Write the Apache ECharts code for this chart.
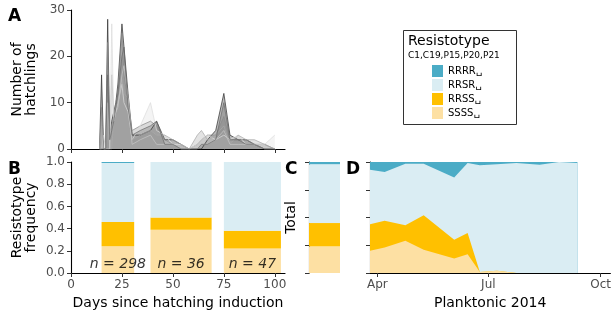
<!DOCTYPE html>
<html>
<head>
<meta charset="utf-8">
<script src="https://cdn.jsdelivr.net/npm/echarts@6/dist/echarts.min.js"></script>
<style>
  html, body { margin: 0; padding: 0; background: #fff; }
  #main { width: 614px; height: 320px; }
</style>
</head>
<body>
<div id="main"></div>
<script>
// A: hatchlings per day, one series per clone
var hatchDays = [14, 15, 16, 17, 18, 19, 20, 21, 22, 23, 25, 26, 28, 30, 34, 39, 42, 46, 50, 54, 58, 62, 64, 67, 71, 75, 78, 82, 86, 90, 95, 100];
var hatch1 = [0, 16, 0, 0, 28, 3, 6, 8, 10, 14, 27, 22, 12, 3, 3, 4, 6, 2, 2, 1, 0, 0, 0, 2, 4, 12, 3, 2, 2, 1, 0, 0];
var hatch2 = [0, 9, 0, 0, 23, 0, 5, 7, 10, 12, 25, 16, 10, 4, 5, 6, 5, 2, 1, 0, 0, 1, 2, 3, 3, 7, 2, 2, 2, 1, 1, 0];
var hatch3 = [0, 0, 0, 0, 0, 0, 27, 6, 8, 10, 14, 10, 8, 2, 5, 10, 4, 3, 1, 1, 0, 1, 2, 3, 2, 3, 2, 3, 1, 1, 1, 3];
var hatch4 = [0, 5, 0, 0, 0, 0, 0, 7, 9, 10, 15, 12, 11, 2, 3, 4, 3, 3, 2, 1, 0, 3, 4, 2, 3, 5, 1, 3, 2, 2, 1, 0];
var hatch5 = [0, 0, 3, 0, 10, 0, 16, 7, 8, 9, 16, 18, 11, 1, 2, 3, 1, 1, 1, 0, 0, 0, 1, 1, 2, 4, 1, 1, 1, 1, 0, 0];
var hatch6 = [0, 0, 0, 0, 16, 2, 4, 6, 9, 12, 20, 22, 9, 3, 4, 5, 6, 1, 1, 0, 0, 0, 1, 1, 2, 10, 2, 2, 1, 1, 0, 0];

// resistotypes
var typeNames = ['RRRR', 'RRSR', 'RRSS', 'SSSS'];
var typeColors = {RRRR: '#4bacc6', RRSR: '#daedf3', RRSS: '#ffc000', SSSS: '#fde0a3'};

// B: hatching bins
var binStart = [15, 39, 75];
var binEnd = [31, 69, 103];
var binCounts = [298, 36, 47];
var binSSSS = [0.24, 0.39, 0.22];
var binRRSS = [0.22, 0.11, 0.16];
var binRRSR = [0.53, 0.50, 0.62];
var binRRRR = [0.01, 0.00, 0.00];

// C: total
var totalSSSS = [0.24];
var totalRRSS = [0.21];
var totalRRSR = [0.53];
var totalRRRR = [0.02];

// D: planktonic 2014
var planktonDates = ['2014-03-26', '2014-04-07', '2014-04-24', '2014-05-09', '2014-06-03', '2014-06-14', '2014-06-24', '2014-07-08', '2014-07-24', '2014-08-12', '2014-08-28', '2014-09-12'];
var planktonSSSS = [0.20, 0.23, 0.29, 0.21, 0.13, 0.17, 0.01, 0.02, 0.00, 0.00, 0.00, 0.01];
var planktonRRSS = [0.24, 0.24, 0.14, 0.31, 0.17, 0.19, 0.00, 0.00, 0.00, 0.00, 0.00, 0.00];
var planktonRRSR = [0.49, 0.44, 0.555, 0.465, 0.56, 0.63, 0.96, 0.96, 0.99, 0.975, 1.00, 0.98];
var planktonRRRR = [0.07, 0.09, 0.015, 0.015, 0.14, 0.01, 0.03, 0.02, 0.01, 0.025, 0.00, 0.01];
var monthTickDates = ['2014-04-01', '2014-07-01', '2014-10-01'];

function toMs(s) {
    var p = s.split('-');
    return new Date(+p[0], +p[1] - 1, +p[2]).getTime();
}
var monthTicks = monthTickDates.map(toMs);
var monthNames = ['Jan', 'Feb', 'Mar', 'Apr', 'May', 'Jun', 'Jul', 'Aug', 'Sep', 'Oct', 'Nov', 'Dec'];

var myChart = echarts.init(document.getElementById('main'));

var hatchSeries = [hatch1, hatch2, hatch3, hatch4, hatch5, hatch6];
var greys = ['#303030', '#8a8a8a', '#dcdcdc', '#a8a8a8', '#c6c6c6', '#6a6a6a'];

var series = [];
hatchSeries.forEach(function (vals, i) {
    series.push({
        name: 'clone' + (i + 1),
        type: 'line',
        xAxisIndex: 0,
        yAxisIndex: 0,
        symbol: 'none',
        data: hatchDays.map(function (d, j) { return [d, vals[j]]; }),
        lineStyle: {color: greys[i], width: 0.8, opacity: 0.9},
        areaStyle: {color: greys[i], opacity: 0.32},
        silent: true
    });
});

var binTypes = {SSSS: binSSSS, RRSS: binRRSS, RRSR: binRRSR, RRRR: binRRRR};
var totalTypes = {SSSS: totalSSSS, RRSS: totalRRSS, RRSR: totalRRSR, RRRR: totalRRRR};
var planktonTypes = {SSSS: planktonSSSS, RRSS: planktonRRSS, RRSR: planktonRRSR, RRRR: planktonRRRR};
var stackOrder = ['SSSS', 'RRSS', 'RRSR', 'RRRR'];

// B: variable width stacked bars
var cum = binStart.map(function () { return 0; });
stackOrder.forEach(function (t) {
    var rows = binStart.map(function (s, i) {
        var y0 = cum[i];
        var y1 = y0 + binTypes[t][i];
        cum[i] = y1;
        return [s, binEnd[i], y0, y1];
    });
    series.push({
        name: t,
        type: 'custom',
        xAxisIndex: 1,
        yAxisIndex: 1,
        data: rows,
        itemStyle: {color: typeColors[t]},
        renderItem: function (params, api) {
            var p0 = api.coord([api.value(0), api.value(3)]);
            var p1 = api.coord([api.value(1), api.value(2)]);
            return {
                type: 'rect',
                shape: {x: p0[0], y: p0[1], width: p1[0] - p0[0], height: p1[1] - p0[1]},
                style: {fill: typeColors[t]}
            };
        }
    });
});

series.push({
    name: 'n',
    type: 'scatter',
    xAxisIndex: 1,
    yAxisIndex: 1,
    symbolSize: 0,
    data: binStart.map(function (s, i) { return [(s + binEnd[i]) / 2, 0.08, binCounts[i]]; }),
    label: {
        show: true,
        position: 'inside',
        formatter: function (p) { return 'n = ' + p.value[2]; },
        fontStyle: 'italic',
        fontSize: 14,
        color: '#000',
        fontFamily: 'DejaVu Sans'
    },
    silent: true
});

// C: total bar
stackOrder.forEach(function (t) {
    series.push({
        name: t,
        type: 'bar',
        xAxisIndex: 2,
        yAxisIndex: 2,
        stack: 'total',
        barWidth: '100%',
        data: totalTypes[t],
        itemStyle: {color: typeColors[t]},
        silent: true
    });
});

// D: planktonic cumulative areas, drawn from the top layer down
var planktonCum = {};
var running = planktonDates.map(function () { return 0; });
stackOrder.forEach(function (t) {
    running = running.map(function (r, i) { return r + planktonTypes[t][i]; });
    planktonCum[t] = running.slice();
});
stackOrder.slice().reverse().forEach(function (t) {
    series.push({
        name: t,
        type: 'line',
        xAxisIndex: 3,
        yAxisIndex: 3,
        symbol: 'none',
        data: planktonDates.map(function (d, i) { return [toMs(d), Math.min(1, planktonCum[t][i])]; }),
        lineStyle: {width: 0},
        areaStyle: {color: typeColors[t], opacity: 1, origin: 'start'},
        silent: true
    });
});

var axisFont = 'DejaVu Sans';
var tickLabel = {color: '#4d4d4d', fontSize: 12, fontFamily: axisFont};
var axisLine = {show: true, lineStyle: {color: '#000', width: 1.1}};
var axisTick = {show: true, length: 4, lineStyle: {color: '#333', width: 1}};
var nameStyle = {color: '#000', fontSize: 14, fontFamily: axisFont, lineHeight: 14};

option = {
    animation: false,
    backgroundColor: '#fff',
    grid: [
        {left: 71, top: 10, width: 214, height: 139},
        {left: 71, top: 162, width: 214, height: 111},
        {left: 309, top: 162, width: 31, height: 111},
        {left: 370, top: 162, width: 244, height: 111}
    ],
    xAxis: [
        {
            type: 'value', gridIndex: 0, min: 0, max: 105,
            axisLine: axisLine,
            axisTick: {show: true, length: 4, lineStyle: {color: '#333'}, customValues: [0, 25, 50, 75, 100]},
            axisLabel: {show: false},
            splitLine: {show: false}
        },
        {
            type: 'value', gridIndex: 1, min: 0, max: 105,
            name: 'Days since hatching induction', nameLocation: 'middle', nameGap: 23,
            nameTextStyle: nameStyle,
            axisLine: axisLine,
            axisTick: {show: true, length: 4, lineStyle: {color: '#333'}, customValues: [0, 25, 50, 75, 100]},
            axisLabel: Object.assign({margin: 6, customValues: [0, 25, 50, 75, 100]}, tickLabel),
            splitLine: {show: false}
        },
        {
            type: 'category', gridIndex: 2, data: ['Total'], show: false
        },
        {
            type: 'value', gridIndex: 3,
            min: toMs(planktonDates[0]), max: toMs('2014-10-09'),
            name: 'Planktonic 2014', nameLocation: 'middle', nameGap: 23,
            nameTextStyle: nameStyle,
            axisLine: axisLine,
            axisTick: {show: true, length: 4, lineStyle: {color: '#333'}, customValues: monthTicks},
            axisLabel: Object.assign({
                margin: 6,
                customValues: monthTicks,
                formatter: function (v) { return monthNames[new Date(v).getMonth()]; }
            }, tickLabel),
            splitLine: {show: false}
        }
    ],
    yAxis: [
        {
            type: 'value', gridIndex: 0, min: 0, max: 30, interval: 10,
            name: 'Number of\nhatchlings', nameLocation: 'middle', nameGap: 33, nameRotate: 90,
            nameTextStyle: nameStyle,
            axisLine: axisLine, axisTick: axisTick,
            axisLabel: Object.assign({margin: 6}, tickLabel),
            splitLine: {show: false}
        },
        {
            type: 'value', gridIndex: 1, min: 0, max: 1, interval: 0.2,
            name: 'Resistotype\nfrequency', nameLocation: 'middle', nameGap: 33, nameRotate: 90,
            nameTextStyle: nameStyle,
            axisLine: axisLine, axisTick: axisTick,
            axisLabel: Object.assign({margin: 6, formatter: function (v) { return v.toFixed(1); }}, tickLabel),
            splitLine: {show: false}
        },
        {
            type: 'value', gridIndex: 2, min: 0, max: 1, interval: 0.25,
            name: 'Total', nameLocation: 'middle', nameGap: 11, nameRotate: 90,
            nameTextStyle: nameStyle,
            axisLine: axisLine, axisTick: axisTick,
            axisLabel: {show: false},
            splitLine: {show: false}
        },
        {
            type: 'value', gridIndex: 3, min: 0, max: 1, interval: 0.25,
            axisLine: axisLine, axisTick: axisTick,
            axisLabel: {show: false},
            splitLine: {show: false}
        }
    ],
    legend: {
        data: typeNames,
        orient: 'vertical',
        left: 432,
        top: 65,
        padding: 0,
        itemWidth: 11,
        itemHeight: 12,
        itemGap: 2,
        icon: 'rect',
        selectedMode: false,
        z: 10,
        formatter: function (name) { return name + '\u2423'; },
        textStyle: {fontFamily: 'DejaVu Sans', fontSize: 10, color: '#000'}
    },
    graphic: [
        {type: 'rect', z: 1, shape: {x: 403.5, y: 30.5, width: 113, height: 94}, style: {fill: '#fff', stroke: '#333', lineWidth: 1}},
        {type: 'text', z: 2, left: 408, top: 34, style: {text: 'Resistotype', fontFamily: 'DejaVu Sans', fontSize: 14, fill: '#000'}},
        {type: 'text', z: 2, left: 408, top: 51, style: {text: 'C1,C19,P15,P20,P21', fontFamily: 'DejaVu Sans', fontSize: 9, fill: '#000'}},
        {type: 'text', left: 8, top: 8, style: {text: 'A', font: 'bold 17px DejaVu Sans', fill: '#000'}},
        {type: 'text', left: 8, top: 161, style: {text: 'B', font: 'bold 17px DejaVu Sans', fill: '#000'}},
        {type: 'text', left: 285, top: 161, style: {text: 'C', font: 'bold 17px DejaVu Sans', fill: '#000'}},
        {type: 'text', left: 346, top: 161, style: {text: 'D', font: 'bold 17px DejaVu Sans', fill: '#000'}}
    ],
    series: series
};

myChart.setOption(option);
</script>
</body>
</html>
